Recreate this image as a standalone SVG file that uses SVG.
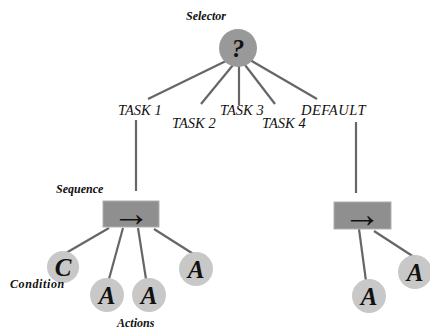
<svg xmlns="http://www.w3.org/2000/svg" width="430" height="329" viewBox="0 0 430 329">
<style>
.ln{stroke:#666;stroke-width:2.2;fill:none}
.lbl{font-style:italic;fill:#111}
.sm{font-size:12px;font-weight:bold}
.task{font-size:14.5px}
.leaf{fill:#c8c8c8}
.box{fill:#8f8f8f;stroke:#b0b0b0;stroke-width:1}
.big{font-style:italic;font-weight:bold;font-size:25px;fill:#111;text-anchor:middle}
.arr{font-size:38px;fill:#111;text-anchor:middle}
</style>
<rect width="430" height="329" fill="#fff"/>
<g id="connectors">
<line class="ln" x1="228" y1="60" x2="148" y2="99"/>
<line class="ln" x1="233" y1="65" x2="201" y2="104"/>
<line class="ln" x1="239" y1="66" x2="239" y2="105"/>
<line class="ln" x1="245" y1="65" x2="275" y2="104"/>
<line class="ln" x1="250" y1="60" x2="317" y2="99"/>
<line class="ln" x1="136" y1="120" x2="136" y2="191"/>
<line class="ln" x1="356" y1="122" x2="356" y2="193"/>
<line class="ln" x1="109" y1="228" x2="66" y2="253"/>
<line class="ln" x1="123" y1="228" x2="109" y2="279"/>
<line class="ln" x1="138" y1="228" x2="146" y2="279"/>
<line class="ln" x1="154" y1="229" x2="195" y2="255"/>
<line class="ln" x1="359" y1="229" x2="366" y2="281"/>
<line class="ln" x1="374" y1="231" x2="414" y2="257"/>
</g>
<g id="selector">
<text class="lbl sm" font-family="Liberation Serif, serif" x="186" y="20">Selector</text>
<circle cx="238" cy="48" r="19" fill="#999"/>
<text class="big" font-family="Liberation Serif, serif" x="238" y="57" font-size="26">?</text>
</g>
<g id="task1"><text class="lbl task" font-family="Liberation Serif, serif" x="118" y="115">TASK 1</text></g>
<g id="task2"><text class="lbl task" font-family="Liberation Serif, serif" x="172" y="128">TASK 2</text></g>
<g id="task3"><text class="lbl task" font-family="Liberation Serif, serif" x="220" y="115">TASK 3</text></g>
<g id="task4"><text class="lbl task" font-family="Liberation Serif, serif" x="262" y="128">TASK 4</text></g>
<g id="default"><text class="lbl task" font-family="Liberation Serif, serif" x="301" y="115" letter-spacing="0.5">DEFAULT</text></g>
<g id="sequence1">
<text class="lbl sm" font-family="Liberation Serif, serif" x="56" y="193">Sequence</text>
<rect class="box" x="103" y="201" width="56" height="26"/>
<text class="arr" font-family="Liberation Serif, serif" x="131" y="226">→</text>
</g>
<g id="sequence2">
<rect class="box" x="334" y="202" width="57" height="27"/>
<text class="arr" font-family="Liberation Serif, serif" x="362" y="227">→</text>
</g>
<g id="condition">
<circle class="leaf" cx="63" cy="267" r="16"/>
<text class="big" font-family="Liberation Serif, serif" x="63" y="276">C</text>
<text class="lbl sm" font-family="Liberation Serif, serif" x="10" y="288" letter-spacing="0.6">Condition</text>
</g>
<g id="action1"><circle class="leaf" cx="107" cy="295" r="17"/><text class="big" font-family="Liberation Serif, serif" x="107" y="304">A</text></g>
<g id="action2"><circle class="leaf" cx="149" cy="295" r="17"/><text class="big" font-family="Liberation Serif, serif" x="149" y="304">A</text></g>
<g id="action3"><circle class="leaf" cx="196" cy="269" r="17"/><text class="big" font-family="Liberation Serif, serif" x="196" y="278">A</text></g>
<g id="actions-label"><text class="lbl sm" font-family="Liberation Serif, serif" x="117" y="327">Actions</text></g>
<g id="action4"><circle class="leaf" cx="369" cy="296" r="17"/><text class="big" font-family="Liberation Serif, serif" x="369" y="305">A</text></g>
<g id="action5"><circle class="leaf" cx="415" cy="272" r="17"/><text class="big" font-family="Liberation Serif, serif" x="415" y="281">A</text></g>
</svg>
